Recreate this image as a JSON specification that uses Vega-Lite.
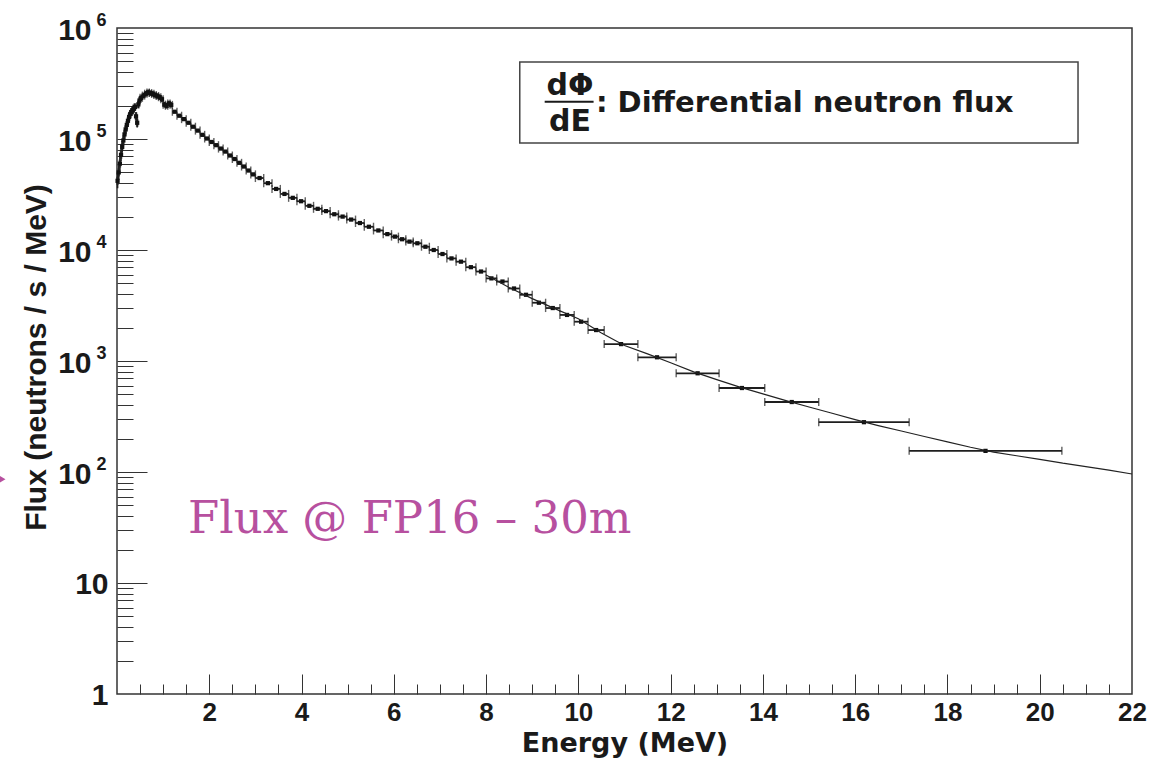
{
  "$schema": "https://vega.github.io/schema/vega-lite/v6.json",
  "width": 1015,
  "height": 666,
  "autosize": "none",
  "padding": {"left": 117, "top": 28, "right": 28, "bottom": 68},
  "background": "white",
  "datasets": {
    "bins": [
      {"E": 0.0125, "lo": 0.0, "hi": 0.025, "flux": 42000},
      {"E": 0.0375, "lo": 0.025, "hi": 0.05, "flux": 50000},
      {"E": 0.0625, "lo": 0.05, "hi": 0.075, "flux": 60000},
      {"E": 0.0875, "lo": 0.075, "hi": 0.1, "flux": 72000},
      {"E": 0.1125, "lo": 0.1, "hi": 0.125, "flux": 85000},
      {"E": 0.1375, "lo": 0.125, "hi": 0.15, "flux": 97000},
      {"E": 0.1625, "lo": 0.15, "hi": 0.175, "flux": 110000},
      {"E": 0.1875, "lo": 0.175, "hi": 0.2, "flux": 122000},
      {"E": 0.2125, "lo": 0.2, "hi": 0.225, "flux": 134000},
      {"E": 0.2375, "lo": 0.225, "hi": 0.25, "flux": 146000},
      {"E": 0.2625, "lo": 0.25, "hi": 0.275, "flux": 158000},
      {"E": 0.2875, "lo": 0.275, "hi": 0.3, "flux": 168000},
      {"E": 0.3125, "lo": 0.3, "hi": 0.325, "flux": 175000},
      {"E": 0.3375, "lo": 0.325, "hi": 0.35, "flux": 181000},
      {"E": 0.3625, "lo": 0.35, "hi": 0.375, "flux": 188000},
      {"E": 0.3875, "lo": 0.375, "hi": 0.4, "flux": 194000},
      {"E": 0.4125, "lo": 0.4, "hi": 0.425, "flux": 160000},
      {"E": 0.4375, "lo": 0.425, "hi": 0.45, "flux": 140000},
      {"E": 0.4625, "lo": 0.45, "hi": 0.475, "flux": 205000},
      {"E": 0.4875, "lo": 0.475, "hi": 0.5, "flux": 222000},
      {"E": 0.525, "lo": 0.5, "hi": 0.55, "flux": 235000},
      {"E": 0.575, "lo": 0.55, "hi": 0.6, "flux": 246000},
      {"E": 0.625, "lo": 0.6, "hi": 0.65, "flux": 256000},
      {"E": 0.675, "lo": 0.65, "hi": 0.7, "flux": 263000},
      {"E": 0.725, "lo": 0.7, "hi": 0.75, "flux": 259000},
      {"E": 0.775, "lo": 0.75, "hi": 0.8, "flux": 255000},
      {"E": 0.825, "lo": 0.8, "hi": 0.85, "flux": 249000},
      {"E": 0.875, "lo": 0.85, "hi": 0.9, "flux": 244000},
      {"E": 0.925, "lo": 0.9, "hi": 0.95, "flux": 238000},
      {"E": 0.975, "lo": 0.95, "hi": 1.0, "flux": 228000},
      {"E": 1.025, "lo": 1.0, "hi": 1.05, "flux": 204000},
      {"E": 1.075, "lo": 1.05, "hi": 1.1, "flux": 199000},
      {"E": 1.125, "lo": 1.1, "hi": 1.15, "flux": 209000},
      {"E": 1.175, "lo": 1.15, "hi": 1.2, "flux": 203000},
      {"E": 1.25, "lo": 1.2, "hi": 1.3, "flux": 176000},
      {"E": 1.35, "lo": 1.3, "hi": 1.4, "flux": 162000},
      {"E": 1.45, "lo": 1.4, "hi": 1.5, "flux": 151000},
      {"E": 1.55, "lo": 1.5, "hi": 1.6, "flux": 140000},
      {"E": 1.65, "lo": 1.6, "hi": 1.7, "flux": 129000},
      {"E": 1.75, "lo": 1.7, "hi": 1.8, "flux": 119000},
      {"E": 1.85, "lo": 1.8, "hi": 1.9, "flux": 109000},
      {"E": 1.95, "lo": 1.9, "hi": 2.0, "flux": 101000},
      {"E": 2.05, "lo": 2.0, "hi": 2.1, "flux": 94000},
      {"E": 2.15, "lo": 2.1, "hi": 2.2, "flux": 88000},
      {"E": 2.25, "lo": 2.2, "hi": 2.3, "flux": 82000},
      {"E": 2.35, "lo": 2.3, "hi": 2.4, "flux": 77000},
      {"E": 2.45, "lo": 2.4, "hi": 2.5, "flux": 71000},
      {"E": 2.55, "lo": 2.5, "hi": 2.6, "flux": 66000},
      {"E": 2.65, "lo": 2.6, "hi": 2.7, "flux": 61000},
      {"E": 2.75, "lo": 2.7, "hi": 2.8, "flux": 56500},
      {"E": 2.85, "lo": 2.8, "hi": 2.9, "flux": 52000},
      {"E": 2.95, "lo": 2.9, "hi": 3.0, "flux": 48000},
      {"E": 3.09, "lo": 3.0, "hi": 3.18, "flux": 44500},
      {"E": 3.27, "lo": 3.18, "hi": 3.36, "flux": 40000},
      {"E": 3.45, "lo": 3.36, "hi": 3.54, "flux": 35500},
      {"E": 3.63, "lo": 3.54, "hi": 3.72, "flux": 32000},
      {"E": 3.81, "lo": 3.72, "hi": 3.9, "flux": 29500},
      {"E": 3.99, "lo": 3.9, "hi": 4.08, "flux": 27500},
      {"E": 4.17, "lo": 4.08, "hi": 4.26, "flux": 25000},
      {"E": 4.35, "lo": 4.26, "hi": 4.44, "flux": 23500},
      {"E": 4.53, "lo": 4.44, "hi": 4.62, "flux": 22400},
      {"E": 4.71, "lo": 4.62, "hi": 4.8, "flux": 21000},
      {"E": 4.89, "lo": 4.8, "hi": 4.98, "flux": 20000},
      {"E": 5.075, "lo": 4.98, "hi": 5.17, "flux": 18800},
      {"E": 5.265, "lo": 5.17, "hi": 5.36, "flux": 17500},
      {"E": 5.46, "lo": 5.36, "hi": 5.56, "flux": 16200},
      {"E": 5.665, "lo": 5.56, "hi": 5.77, "flux": 15000},
      {"E": 5.86, "lo": 5.77, "hi": 5.95, "flux": 13900},
      {"E": 6.025, "lo": 5.95, "hi": 6.1, "flux": 13200},
      {"E": 6.18, "lo": 6.1, "hi": 6.26, "flux": 12500},
      {"E": 6.34, "lo": 6.26, "hi": 6.42, "flux": 11900},
      {"E": 6.51, "lo": 6.42, "hi": 6.6, "flux": 11500},
      {"E": 6.685, "lo": 6.6, "hi": 6.77, "flux": 10700},
      {"E": 6.865, "lo": 6.77, "hi": 6.96, "flux": 10000},
      {"E": 7.055, "lo": 6.96, "hi": 7.15, "flux": 9200},
      {"E": 7.25, "lo": 7.15, "hi": 7.35, "flux": 8400},
      {"E": 7.455, "lo": 7.35, "hi": 7.56, "flux": 7850},
      {"E": 7.67, "lo": 7.56, "hi": 7.78, "flux": 7000},
      {"E": 7.89, "lo": 7.78, "hi": 8.0, "flux": 6400},
      {"E": 8.115, "lo": 8.0, "hi": 8.23, "flux": 5550},
      {"E": 8.355, "lo": 8.23, "hi": 8.48, "flux": 5200},
      {"E": 8.605, "lo": 8.48, "hi": 8.73, "flux": 4500},
      {"E": 8.865, "lo": 8.73, "hi": 9.0, "flux": 3950},
      {"E": 9.145, "lo": 9.0, "hi": 9.29, "flux": 3350},
      {"E": 9.445, "lo": 9.29, "hi": 9.6, "flux": 3000},
      {"E": 9.755, "lo": 9.6, "hi": 9.91, "flux": 2600},
      {"E": 10.06, "lo": 9.91, "hi": 10.21, "flux": 2260},
      {"E": 10.385, "lo": 10.21, "hi": 10.56, "flux": 1900},
      {"E": 10.925, "lo": 10.56, "hi": 11.29, "flux": 1420},
      {"E": 11.705, "lo": 11.29, "hi": 12.12, "flux": 1080},
      {"E": 12.585, "lo": 12.12, "hi": 13.05, "flux": 775},
      {"E": 13.545, "lo": 13.05, "hi": 14.04, "flux": 571},
      {"E": 14.625, "lo": 14.04, "hi": 15.21, "flux": 427},
      {"E": 16.19, "lo": 15.21, "hi": 17.17, "flux": 281},
      {"E": 18.825, "lo": 17.17, "hi": 20.48, "flux": 155}
    ],
    "verr": [
      {"E": 0.0125, "fmin": 36000, "fmax": 50000},
      {"E": 0.0375, "fmin": 43000, "fmax": 58000},
      {"E": 0.0625, "fmin": 52000, "fmax": 69000},
      {"E": 0.0875, "fmin": 63000, "fmax": 82000},
      {"E": 0.1125, "fmin": 75000, "fmax": 96000},
      {"E": 0.1375, "fmin": 86000, "fmax": 108000},
      {"E": 0.1625, "fmin": 98000, "fmax": 122000},
      {"E": 0.1875, "fmin": 110000, "fmax": 134000},
      {"E": 0.2125, "fmin": 121000, "fmax": 147000},
      {"E": 0.2375, "fmin": 133000, "fmax": 159000},
      {"E": 0.2625, "fmin": 145000, "fmax": 171000},
      {"E": 0.2875, "fmin": 155000, "fmax": 181000},
      {"E": 0.3125, "fmin": 162000, "fmax": 188000},
      {"E": 0.3375, "fmin": 168000, "fmax": 194000},
      {"E": 0.3625, "fmin": 175000, "fmax": 201000},
      {"E": 0.3875, "fmin": 181000, "fmax": 207000},
      {"E": 0.4125, "fmin": 146000, "fmax": 175000},
      {"E": 0.4375, "fmin": 127000, "fmax": 154000},
      {"E": 0.4625, "fmin": 190000, "fmax": 220000},
      {"E": 0.4875, "fmin": 207000, "fmax": 237000},
      {"E": 0.525, "fmin": 220000, "fmax": 250000},
      {"E": 0.575, "fmin": 232000, "fmax": 261000},
      {"E": 0.625, "fmin": 242000, "fmax": 271000},
      {"E": 0.675, "fmin": 249000, "fmax": 278000},
      {"E": 0.725, "fmin": 245000, "fmax": 274000},
      {"E": 0.775, "fmin": 241000, "fmax": 270000},
      {"E": 0.825, "fmin": 236000, "fmax": 263000},
      {"E": 0.875, "fmin": 231000, "fmax": 258000},
      {"E": 0.925, "fmin": 225000, "fmax": 252000},
      {"E": 0.975, "fmin": 216000, "fmax": 241000},
      {"E": 1.025, "fmin": 193000, "fmax": 216000},
      {"E": 1.075, "fmin": 188000, "fmax": 211000},
      {"E": 1.125, "fmin": 198000, "fmax": 221000},
      {"E": 1.175, "fmin": 192000, "fmax": 215000}
    ],
    "fit": [
      {"E": 8.0, "flux": 5950}, {"E": 8.5, "flux": 4600}, {"E": 9.0, "flux": 3650},
      {"E": 9.5, "flux": 2950}, {"E": 10.0, "flux": 2400}, {"E": 10.5, "flux": 1790},
      {"E": 11.0, "flux": 1380}, {"E": 11.5, "flux": 1160}, {"E": 12.0, "flux": 964},
      {"E": 12.5, "flux": 798}, {"E": 13.0, "flux": 679}, {"E": 13.5, "flux": 581},
      {"E": 14.0, "flux": 506}, {"E": 14.5, "flux": 440}, {"E": 15.0, "flux": 385},
      {"E": 15.5, "flux": 338}, {"E": 16.0, "flux": 296}, {"E": 16.5, "flux": 262},
      {"E": 17.0, "flux": 234}, {"E": 17.5, "flux": 209}, {"E": 18.0, "flux": 187},
      {"E": 18.5, "flux": 167}, {"E": 19.0, "flux": 151}, {"E": 19.5, "flux": 140},
      {"E": 20.0, "flux": 130}, {"E": 20.5, "flux": 120}, {"E": 21.0, "flux": 112},
      {"E": 21.5, "flux": 104}, {"E": 22.0, "flux": 96}
    ]
  },
  "resolve": {"axis": {"x": "independent", "y": "independent"}},
  "layer": [
    {
      "data": {"values": [{"x1": 8.73, "x2": 20.83, "y1": 92000, "y2": 494000}]},
      "mark": {"type": "rect", "fill": "white", "stroke": "#444", "strokeWidth": 1.5},
      "encoding": {
        "x": {"field": "x1", "type": "quantitative", "scale": {"domain": [0, 22], "nice": false, "zero": false}, "axis": null},
        "x2": {"field": "x2"},
        "y": {"field": "y1", "type": "quantitative", "scale": {"type": "log", "domain": [1, 1000000], "nice": false}, "axis": null},
        "y2": {"field": "y2"}
      }
    },
    {
      "data": {"name": "bins"},
      "mark": {"type": "rule", "color": "#1e1e1e", "strokeWidth": 1.8},
      "encoding": {
        "x": {"field": "lo", "type": "quantitative", "scale": {"domain": [0, 22], "nice": false, "zero": false},
          "axis": {"orient": "bottom", "values": [2, 4, 6, 8, 10, 12, 14, 16, 18, 20, 22], "format": "d",
            "ticks": false, "tickSize": 0, "domain": false, "grid": false, "labelPadding": 5,
            "labelFont": "Liberation Sans", "labelFontWeight": "bold", "labelFontSize": 26, "labelColor": "#1a1a1a",
            "labelFlush": false, "labelOverlap": false, "labelBound": false,
            "title": "Energy (MeV)", "titleFont": "DejaVu Sans", "titleFontWeight": "bold", "titleFontSize": 27,
            "titleColor": "#1a1a1a", "titleBaseline": "alphabetic", "titleY": 57}},
        "x2": {"field": "hi"},
        "y": {"field": "flux", "type": "quantitative", "scale": {"type": "log", "domain": [1, 1000000], "nice": false},
          "axis": {"orient": "left", "values": [1, 10],
            "labelExpr": "datum.value == 1 ? '1' : '10'",
            "ticks": false, "tickSize": 0, "domain": false, "grid": false, "labelPadding": 9,
            "labelFont": "Liberation Sans", "labelFontWeight": "bold", "labelFontSize": 30, "labelColor": "#1a1a1a",
            "labelFlush": false, "labelOverlap": false, "labelBound": false, "labelOffset": 1,
            "title": "Flux (neutrons / s / MeV)", "titleFont": "Liberation Sans", "titleFontWeight": "bold", "titleFontSize": 30,
            "titleColor": "#1a1a1a", "titleAngle": -90, "titleAlign": "center", "titleBaseline": "alphabetic",
            "titleX": -72, "titleY": 329}}
      }
    },
    {
      "data": {"name": "bins"},
      "mark": {"type": "tick", "orient": "vertical", "color": "#1e1e1e", "size": 8, "thickness": 1.4},
      "encoding": {
        "x": {"field": "lo", "type": "quantitative", "scale": {"domain": [0, 22], "nice": false, "zero": false},
          "axis": {"orient": "bottom", "values": [2, 4, 6, 8, 10, 12, 14, 16, 18, 20], "labels": false, "domain": false, "grid": false,
            "ticks": true, "tickSize": -20, "tickColor": "#333", "tickWidth": 1, "title": null}},
        "y": {"field": "flux", "type": "quantitative", "scale": {"type": "log", "domain": [1, 1000000], "nice": false},
          "axis": {"orient": "left", "values": [10, 100, 1000, 10000, 100000], "labels": false, "domain": false, "grid": false,
            "ticks": true, "tickSize": -30, "tickColor": "#333", "tickWidth": 1, "title": null}}
      }
    },
    {
      "data": {"name": "bins"},
      "mark": {"type": "tick", "orient": "vertical", "color": "#1e1e1e", "size": 8, "thickness": 1.4},
      "encoding": {
        "x": {"field": "hi", "type": "quantitative", "scale": {"domain": [0, 22], "nice": false, "zero": false},
          "axis": {"orient": "bottom", "values": [0.5, 1, 1.5, 2.5, 3, 3.5, 4.5, 5, 5.5, 6.5, 7, 7.5, 8.5, 9, 9.5, 10.5, 11, 11.5, 12.5, 13, 13.5, 14.5, 15, 15.5, 16.5, 17, 17.5, 18.5, 19, 19.5, 20.5, 21, 21.5],
            "labels": false, "domain": false, "grid": false, "ticks": true, "tickSize": -10, "tickColor": "#333", "tickWidth": 1, "title": null}},
        "y": {"field": "flux", "type": "quantitative", "scale": {"type": "log", "domain": [1, 1000000], "nice": false},
          "axis": {"orient": "left", "values": [2, 3, 4, 5, 6, 7, 8, 9, 20, 30, 40, 50, 60, 70, 80, 90, 200, 300, 400, 500, 600, 700, 800, 900, 2000, 3000, 4000, 5000, 6000, 7000, 8000, 9000, 20000, 30000, 40000, 50000, 60000, 70000, 80000, 90000, 200000, 300000, 400000, 500000, 600000, 700000, 800000, 900000],
            "labels": false, "domain": false, "grid": false, "ticks": true, "tickSize": -16, "tickColor": "#333", "tickWidth": 1, "title": null}}
      }
    },
    {
      "data": {"name": "verr"},
      "mark": {"type": "rule", "color": "#1e1e1e", "strokeWidth": 1.6},
      "encoding": {
        "x": {"field": "E", "type": "quantitative", "scale": {"domain": [0, 22], "nice": false, "zero": false}, "axis": null},
        "y": {"field": "fmin", "type": "quantitative", "scale": {"type": "log", "domain": [1, 1000000], "nice": false},
          "axis": {"orient": "left", "values": [100, 1000, 10000, 100000, 1000000], "labelExpr": "'10'",
            "ticks": false, "tickSize": 0, "domain": false, "grid": false, "labelPadding": 26,
            "labelFont": "Liberation Sans", "labelFontWeight": "bold", "labelFontSize": 30, "labelColor": "#1a1a1a",
            "labelFlush": false, "labelOverlap": false, "labelBound": false, "labelOffset": 2, "title": null}},
        "y2": {"field": "fmax"}
      }
    },
    {
      "data": {"name": "bins"},
      "mark": {"type": "point", "shape": "square", "filled": true, "size": 18, "color": "#111", "opacity": 1},
      "encoding": {
        "x": {"field": "E", "type": "quantitative", "scale": {"domain": [0, 22], "nice": false, "zero": false}, "axis": null},
        "y": {"field": "flux", "type": "quantitative", "scale": {"type": "log", "domain": [1, 1000000], "nice": false},
          "axis": {"orient": "left", "values": [100, 1000, 10000, 100000, 1000000],
            "labelExpr": "datum.value == 100 ? '2' : datum.value == 1000 ? '3' : datum.value == 10000 ? '4' : datum.value == 100000 ? '5' : '6'",
            "ticks": false, "tickSize": 0, "domain": false, "grid": false, "labelPadding": 11,
            "labelFont": "Liberation Sans", "labelFontWeight": "bold", "labelFontSize": 18, "labelColor": "#1a1a1a",
            "labelFlush": false, "labelOverlap": false, "labelBound": false, "labelOffset": -8, "title": null}}
      }
    },
    {
      "data": {"name": "fit"},
      "mark": {"type": "line", "color": "#222", "strokeWidth": 1.2},
      "encoding": {
        "x": {"field": "E", "type": "quantitative", "scale": {"domain": [0, 22], "nice": false, "zero": false}, "axis": null},
        "y": {"field": "flux", "type": "quantitative", "scale": {"type": "log", "domain": [1, 1000000], "nice": false}, "axis": null}
      }
    },
    {
      "data": {"values": [{"a": 9.27, "b": 10.33, "flux": 217000}]},
      "mark": {"type": "rule", "color": "#1a1a1a", "strokeWidth": 2},
      "encoding": {
        "x": {"field": "a", "type": "quantitative", "scale": {"domain": [0, 22], "nice": false, "zero": false}, "axis": null},
        "x2": {"field": "b"},
        "y": {"field": "flux", "type": "quantitative", "scale": {"type": "log", "domain": [1, 1000000], "nice": false}, "axis": null}
      }
    },
    {
      "data": {"values": [{"E": 9.82, "flux": 249000, "label": "dΦ"}, {"E": 9.82, "flux": 117000, "label": "dE"}]},
      "mark": {"type": "text", "font": "DejaVu Sans", "fontWeight": "bold", "fontSize": 30, "align": "center", "baseline": "alphabetic", "color": "#1a1a1a"},
      "encoding": {
        "x": {"field": "E", "type": "quantitative", "scale": {"domain": [0, 22], "nice": false, "zero": false}, "axis": null},
        "y": {"field": "flux", "type": "quantitative", "scale": {"type": "log", "domain": [1, 1000000], "nice": false}, "axis": null},
        "text": {"field": "label"}
      }
    },
    {
      "data": {"values": [{"E": 10.38, "flux": 176000, "label": ": Differential neutron flux"}]},
      "mark": {"type": "text", "font": "DejaVu Sans", "fontWeight": "bold", "fontSize": 29, "align": "left", "baseline": "alphabetic", "color": "#1a1a1a"},
      "encoding": {
        "x": {"field": "E", "type": "quantitative", "scale": {"domain": [0, 22], "nice": false, "zero": false}, "axis": null},
        "y": {"field": "flux", "type": "quantitative", "scale": {"type": "log", "domain": [1, 1000000], "nice": false}, "axis": null},
        "text": {"field": "label"}
      }
    },
    {
      "data": {"values": [{"E": 1.54, "flux": 28, "label": "Flux @ FP16 – 30m"}]},
      "mark": {"type": "text", "font": "DejaVu Serif", "fontSize": 45, "align": "left", "baseline": "alphabetic", "color": "#b7509f"},
      "encoding": {
        "x": {"field": "E", "type": "quantitative", "scale": {"domain": [0, 22], "nice": false, "zero": false}, "axis": null},
        "y": {"field": "flux", "type": "quantitative", "scale": {"type": "log", "domain": [1, 1000000], "nice": false}, "axis": null},
        "text": {"field": "label"}
      }
    },
    {
      "data": {"values": [{"E": -2.52, "flux": 86}]},
      "mark": {"type": "point", "shape": "triangle-right", "filled": true, "size": 120, "color": "#b7509f", "opacity": 1},
      "encoding": {
        "x": {"field": "E", "type": "quantitative", "scale": {"domain": [0, 22], "nice": false, "zero": false}, "axis": null},
        "y": {"field": "flux", "type": "quantitative", "scale": {"type": "log", "domain": [1, 1000000], "nice": false}, "axis": null}
      }
    }
  ],
  "config": {
    "view": {"stroke": "#333", "strokeWidth": 1.5},
    "axis": {"grid": false, "domain": false}
  }
}
